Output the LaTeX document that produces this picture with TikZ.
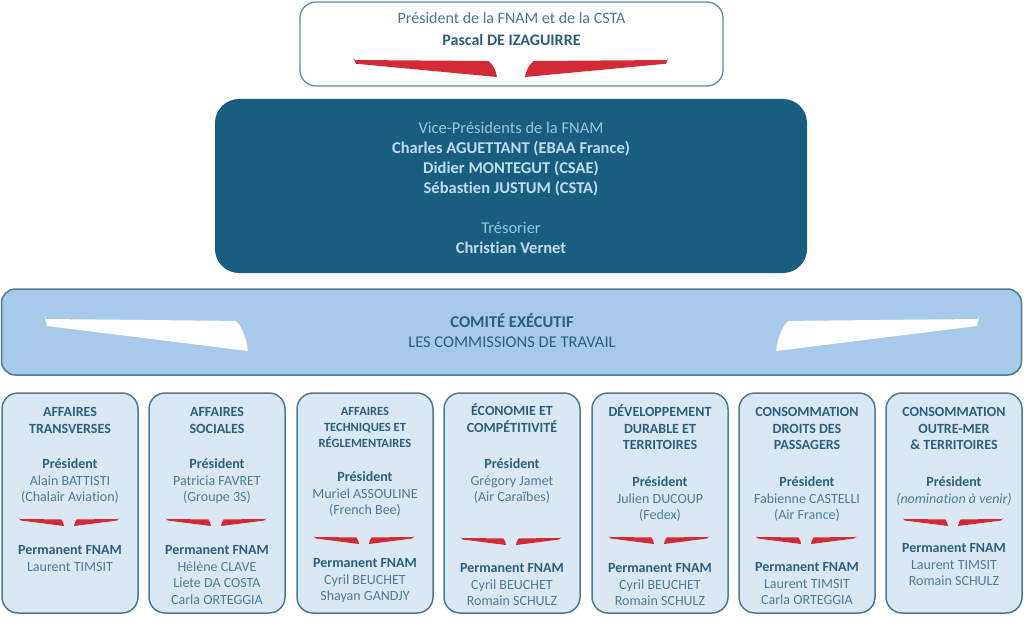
\documentclass[tikz,border=0pt]{standalone}
\usepackage{fontspec}
\setmainfont[Ligatures=NoCommon]{Carlito}
\usepackage{tikz}
\definecolor{fnamred}{HTML}{D22B37}
\definecolor{topline}{HTML}{5F8E9E}
\definecolor{vpblue}{HTML}{175E7F}
\definecolor{vptext}{HTML}{9DC4DF}
\definecolor{vpname}{HTML}{C2DCEE}
\definecolor{bandblue}{HTML}{A8CAEA}
\definecolor{boxline}{HTML}{4D7A93}
\definecolor{colblue}{HTML}{DAE8F4}
\definecolor{headcol}{HTML}{2B5F80}
\definecolor{namecol}{HTML}{4B7D99}
% pair of wings: centre x, top y, outer end, inner tip, height, colour
\newcommand{\wingpair}[6]{%
  \foreach \s in {1,-1}
    \fill[#6,shift={(#1,#2)},xscale=\s]
      ({-#3-1.5},{-0.12*#5}) -- ({-#3},0) -- ({-#4-0.06*(#3-#4)},{0.06*#5})
      .. controls ({-#4-0.02*(#3-#4)},{0.3*#5}) and ({-#4-0.005*(#3-#4)},{0.75*#5}) .. ({-#4},{#5})
      -- ({-#3+1},{0.22*#5}) -- cycle;}

\begin{document}
\begin{tikzpicture}[x=1pt,y=-1pt,
    topbox/.style={draw=topline,fill=white,line width=1.3pt,rounded corners=16pt,minimum width=423pt,minimum height=84pt,inner sep=0pt},
    vpbox/.style={fill=vpblue,rounded corners=24pt,minimum width=592pt,minimum height=174pt,inner sep=0pt},
    cexbox/.style={draw=boxline,fill=bandblue,line width=1.5pt,rounded corners=14pt,minimum width=1020pt,minimum height=86pt,inner sep=0pt},
    colbox/.style={draw=boxline,fill=colblue,line width=1.5pt,rounded corners=16pt,minimum width=136pt,minimum height=220pt,inner sep=0pt},
    txt/.style={anchor=base,align=center,inner sep=0pt},
    coltxt/.style={txt,text=namecol,font=\fontsize{14}{16.7}\selectfont},
    colhead/.style={txt,text=headcol,font=\fontsize{14}{16.7}\selectfont\bfseries}]
  \useasboundingbox (0,0) rectangle (1024,623);

  % president (text nodes sit on the baseline of their last line)
  \node[topbox] (pres) at (511.5,44) {};
  \node[txt,text=headcol!85!white,font=\fontsize{16}{22}\selectfont] (prestxt) at (511.5,45.3)
    {Président de la FNAM et de la CSTA\\ \textbf{\color{headcol}Pascal DE IZAGUIRRE}};
  \wingpair{511}{60}{156}{14}{17}{fnamred}

  % vice-presidents
  \node[vpbox] (vp) at (511,186) {};
  \node[txt,text=vptext,font=\fontsize{16.5}{20}\selectfont] (vptxt) at (511,253.5)
    {Vice-Présidents de la FNAM\\ \textbf{\color{vpname}Charles AGUETTANT (EBAA France)}\\
     \textbf{\color{vpname}Didier MONTEGUT (CSAE)}\\ \textbf{\color{vpname}Sébastien JUSTUM (CSTA)}\\[20pt]
     Trésorier\\ \textbf{\color{vpname}Christian Vernet}};

  % comite executif
  \node[cexbox] (cex) at (511.5,332) {};
  \wingpair{512}{319}{466}{264}{32}{white}
  \node[txt,text=headcol,font=\fontsize{16.5}{20}\selectfont] (cextxt) at (512,347.5)
    {\textbf{COMITÉ EXÉCUTIF}\\ LES COMMISSIONS DE TRAVAIL};

  % commissions
  \foreach \i/\x in {1/70,2/217,3/365,4/512,5/660,6/807,7/954}
    \node[colbox] (com\i) at (\x,503) {};

  \node[colhead] (h1) at (70,433.2) {AFFAIRES\\TRANSVERSES};
  \node[coltxt] (p1) at (70,501.9) {{\bfseries\color{headcol}Président}\\Alain BATTISTI\\(Chalair Aviation)};
  \wingpair{69}{519}{49}{5}{7}{fnamred}
  \node[coltxt] (m1) at (70,571.2) {{\bfseries\color{headcol}Permanent FNAM}\\Laurent TIMSIT};

  \node[colhead] (h2) at (217,433.2) {AFFAIRES\\SOCIALES};
  \node[coltxt] (p2) at (217,501.9) {{\bfseries\color{headcol}Président}\\Patricia FAVRET\\(Groupe 3S)};
  \wingpair{216}{519}{49}{5}{7}{fnamred}
  \node[coltxt] (m2) at (217,604.6) {{\bfseries\color{headcol}Permanent FNAM}\\Hélène CLAVE\\Liete DA COSTA\\Carla ORTEGGIA};

  \node[colhead,font=\fontsize{12.5}{16}\selectfont\bfseries] (h3) at (365,447.2) {AFFAIRES\\TECHNIQUES ET\\RÉGLEMENTAIRES};
  \node[coltxt] (p3) at (365,514.9) {{\bfseries\color{headcol}Président}\\Muriel ASSOULINE\\(French Bee)};
  \wingpair{364}{537}{49}{5}{7}{fnamred}
  \node[coltxt] (m3) at (365,600.9) {{\bfseries\color{headcol}Permanent FNAM}\\Cyril BEUCHET\\Shayan GANDJY};

  \node[colhead] (h4) at (512,432.2) {ÉCONOMIE ET\\COMPÉTITIVITÉ};
  \node[coltxt] (p4) at (512,501.9) {{\bfseries\color{headcol}Président}\\Grégory Jamet\\(Air Caraïbes)};
  \wingpair{511}{538}{49}{5}{7}{fnamred}
  \node[coltxt] (m4) at (512,605.9) {{\bfseries\color{headcol}Permanent FNAM}\\Cyril BEUCHET\\Romain SCHULZ};

  \node[colhead] (h5) at (660,449.9) {DÉVELOPPEMENT\\DURABLE ET\\TERRITOIRES};
  \node[coltxt] (p5) at (660,519.9) {{\bfseries\color{headcol}Président}\\Julien DUCOUP\\(Fedex)};
  \wingpair{659}{537}{49}{5}{7}{fnamred}
  \node[coltxt] (m5) at (660,605.9) {{\bfseries\color{headcol}Permanent FNAM}\\Cyril BEUCHET\\Romain SCHULZ};

  \node[colhead] (h6) at (807,449.9) {CONSOMMATION\\DROITS DES\\PASSAGERS};
  \node[coltxt] (p6) at (807,519.9) {{\bfseries\color{headcol}Président}\\Fabienne CASTELLI\\(Air France)};
  \wingpair{806}{537}{49}{5}{7}{fnamred}
  \node[coltxt] (m6) at (807,604.9) {{\bfseries\color{headcol}Permanent FNAM}\\Laurent TIMSIT\\Carla ORTEGGIA};

  \node[colhead] (h7) at (954,449.9) {CONSOMMATION\\OUTRE-MER\\\& TERRITOIRES};
  \node[coltxt] (p7) at (954,503.2) {{\bfseries\color{headcol}Président}\\\textit{(nomination à venir)}};
  \wingpair{953}{519}{49}{5}{7}{fnamred}
  \node[coltxt] (m7) at (954,585.9) {{\bfseries\color{headcol}Permanent FNAM}\\Laurent TIMSIT\\Romain SCHULZ};
\end{tikzpicture}
\end{document}
